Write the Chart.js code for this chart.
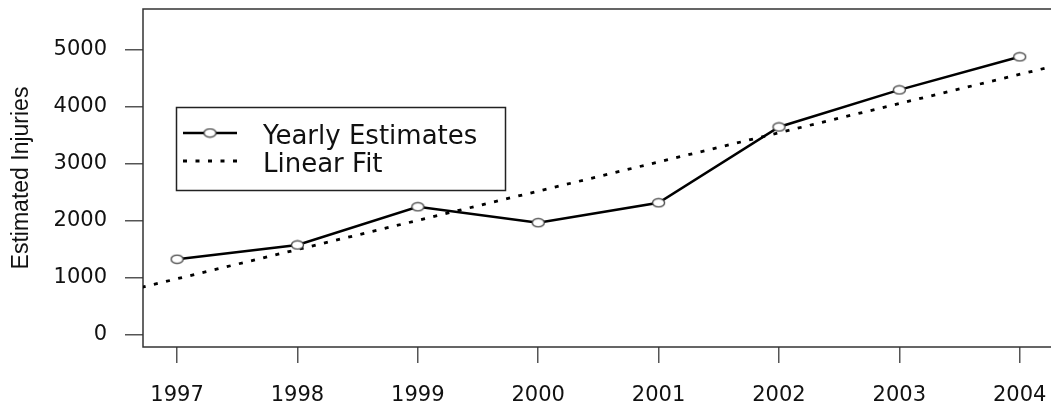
<!DOCTYPE html>
<html>
<head>
<meta charset="utf-8">
<script src="https://cdn.jsdelivr.net/npm/chart.js@4/dist/chart.umd.min.js"></script>
<style>
  html, body { margin: 0; padding: 0; background: #fff; }
  canvas { display: block; }
</style>
</head>
<body>
<canvas id="chart_canvas" width="1051" height="404"></canvas>
<script>
// values
const years = [1997, 1998, 1999, 2000, 2001, 2002, 2003, 2004];
const injuries = [1330, 1580, 2250, 1970, 2320, 3650, 4300, 4880];
const fitYears = [1996, 2005];
const fitValues = [475, 5085];
const yTicks = [0, 1000, 2000, 3000, 4000, 5000];
const xTicks = years;
const seriesNames = ['Yearly Estimates', 'Linear Fit'];

const INK = '#111'

// open ring marker, a bit wider than tall like the original
function ringMark() {
    const c = document.createElement('canvas');
    c.width = 15;
    c.height = 11;
    const g = c.getContext('2d');
    g.fillStyle = '#fff';
    g.strokeStyle = '#444';
    g.lineWidth = 1.3;
    g.beginPath();
    g.ellipse(7.5, 5.5, 6, 4.2, 0, 0, Math.PI * 2);
    g.fill();
    g.stroke();
    return c;
}
const ring = ringMark();

// no automatic label padding, the plot box is placed by hand
function fixSize(prop, size) {
    return s => {
        s[prop] = size;
        s.paddingTop = 0;
        s.paddingBottom = 0;
        s.paddingLeft = 0;
        s.paddingRight = 0;
    }
}

const boxPlugin = {
    id: 'plotBox',
    beforeDatasetsDraw(chart) {
        const {ctx, chartArea: a} = chart;
        ctx.save();
        ctx.strokeStyle = '#333';
        ctx.lineWidth = 1.5;
        ctx.strokeRect(a.left, a.top, a.right - a.left + 10, a.bottom - a.top);
        ctx.restore();
    }
};

const legendBox = {
    id: 'legendBox',
    afterDraw(chart) {
        const ctx = chart.ctx;
        const ds = chart.data.datasets;
        ctx.save();
        ctx.fillStyle = '#fff';
        ctx.fillRect(176, 107, 329, 83);
        ctx.strokeStyle = '#222';
        ctx.lineWidth = 1.5;
        ctx.strokeRect(176.5, 107.5, 329, 83);

        // solid sample
        ctx.strokeStyle = ds[0].borderColor;
        ctx.lineWidth = ds[0].borderWidth;
        ctx.beginPath();
        ctx.moveTo(183, 133);
        ctx.lineTo(237, 133);
        ctx.stroke();
        ctx.drawImage(ring, 210 - ring.width / 2, 133 - ring.height / 2);

        // dotted sample
        ctx.strokeStyle = ds[1].borderColor;
        ctx.lineWidth = ds[1].borderWidth;
        ctx.setLineDash(ds[1].borderDash);
        ctx.beginPath();
        ctx.moveTo(183, 161);
        ctx.lineTo(237, 161);
        ctx.stroke();
        ctx.setLineDash([]);

        ctx.fillStyle = INK;
        ctx.font = '26px "DejaVu Sans"';
        ctx.textBaseline = 'alphabetic';
        ctx.fillText(ds[0].label, 263, 144);
        ctx.fillText(ds[1].label, 263, 172);
        ctx.restore();
    }
};

const ctx = document.getElementById('chart_canvas');
const chartObj = new Chart(ctx, {
    type: 'line',
    data: {
        datasets: [
            {
                label: seriesNames[0],
                data: years.map((y, i) => ({x: y, y: injuries[i]})),
                borderColor: '#000',
                borderWidth: 2.5,
                pointStyle: ring,
                pointRadius: 5,
                tension: 0,
            },
            {
                label: seriesNames[1],
                data: fitYears.map((y, i) => ({x: y, y: fitValues[i]})),
                borderColor: '#000',
                borderWidth: 2.8,
                borderDash: [4, 8.5],
                pointRadius: 0,
                tension: 0,
            }
        ]
    },
    options: {
        responsive: false,
        animation: false,
        devicePixelRatio: 1,
        layout: {autoPadding: false, padding: {left: 0, top: 9, right: 0, bottom: 0}},
        plugins: {
            legend: {display: false},
            tooltip: {enabled: false},
        },
        scales: {
            x: {
                type: 'linear',
                min: 1996.717,
                max: 2004.26,
                afterBuildTicks: s => { s.ticks = xTicks.map(v => ({value: v})) },
                afterFit: fixSize('height', 57),
                grid: {
                    drawOnChartArea: false,
                    drawTicks: true,
                    tickLength: 16,
                    color: '#555',
                    lineWidth: 1.5,
                },
                border: {display: false},
                ticks: {
                    color: INK,
                    padding: 20,
                    maxRotation: 0,
                    autoSkip: false,
                    font: {family: 'DejaVu Sans', size: 21},
                    callback: v => String(v),
                }
            },
            y: {
                min: -210,
                max: 5719,
                afterBuildTicks: s => { s.ticks = yTicks.map(v => ({value: v})) },
                afterFit: fixSize('width', 143),
                grid: {
                    drawOnChartArea: false,
                    drawTicks: true,
                    tickLength: 18,
                    color: '#555',
                    lineWidth: 1.5,
                },
                border: {display: false},
                title: {
                    display: true,
                    text: 'Estimated Injuries',
                    color: INK,
                    padding: {top: 8, bottom: 0},
                    font: {family: 'Liberation Sans', size: 23, weight: 'normal'},
                },
                ticks: {
                    color: INK,
                    padding: 18,
                    font: {family: 'DejaVu Sans', size: 21},
                    callback: v => String(v),
                }
            }
        }
    },
    plugins: [boxPlugin, legendBox]
});
</script>
</body>
</html>
